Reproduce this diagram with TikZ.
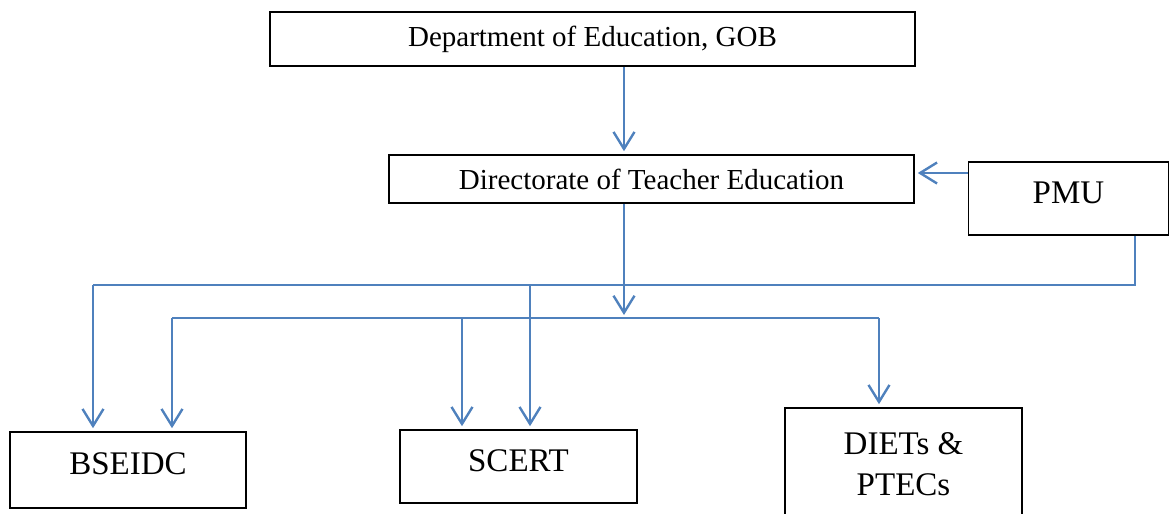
\documentclass[tikz,border=0pt]{standalone}
\usepackage{fontspec}
\setmainfont{Liberation Serif}
\usepackage{tikz}
\usetikzlibrary{arrows.meta, positioning}
\definecolor{myblue}{RGB}{79,129,189}
\tikzset{
  box/.style={rectangle, draw=black, line width=0.8pt, inner sep=0pt,
    font=\fontsize{14.5}{17}\selectfont},
  bigbox/.style={rectangle, draw=black, line width=0.8pt, inner sep=0pt,
    align=center, font=\fontsize{16.5}{20.5}\selectfont},
  raised/.style={text depth=6pt},
  link/.style={myblue, line width=1.2pt},
  arrow/.style={link, -{Straight Barb[length=8.5pt, width=10.5pt, line width=1.2pt]}, shorten >=1.5pt}
}

\begin{document}
\begin{tikzpicture}[x=0.5pt, y=-0.5pt]
  \useasboundingbox (0,0) rectangle (1169,514);

  % Boxes
  \node[box, minimum width=322.5pt, minimum height=27pt] (dept) at (592.5,39) {Department of Education, GOB};
  \node[box, minimum width=262.5pt, minimum height=24pt] (dte) at (651.5,179) {Directorate of Teacher Education};
  \node[bigbox, raised, minimum width=100pt, minimum height=36.5pt] (pmu) at (1068.5,198.5) {PMU};
  \node[bigbox, raised, minimum width=118pt, minimum height=38pt] (bseidc) at (128,470) {BSEIDC};
  \node[bigbox, raised, minimum width=118.5pt, minimum height=36.5pt] (scert) at (518.5,466.5) {SCERT};
  \node[bigbox, minimum width=118.5pt, minimum height=56pt] (diets) at (903.5,464) {DIETs \&\\PTECs};

  % Drop points and bus lines
  \coordinate (trunk) at (624,0);
  \coordinate (pmudrop) at (1135,0);
  \coordinate (busA) at (0,285);
  \coordinate (busB) at (0,318);
  \coordinate (bseL) at ([xshift=-17.5pt]bseidc.north);
  \coordinate (bseR) at ([xshift=22pt]bseidc.north);
  \coordinate (scL) at ([xshift=-28.25pt]scert.north);
  \coordinate (scR) at ([xshift=5.75pt]scert.north);
  \coordinate (dtop) at ([xshift=-12.25pt]diets.north);
  \coordinate (pmuarr) at (0,173);

  % Department -> Directorate
  \draw[arrow] (dept.south -| trunk) -- (dte.north -| trunk);

  % PMU -> Directorate
  \draw[arrow] (pmu.west |- pmuarr) -- (dte.east |- pmuarr);

  % Directorate down to the lower bus
  \draw[arrow] (dte.south -| trunk) -- (busB -| trunk);

  % Upper bus from PMU
  \draw[link] (pmu.south -| pmudrop) -- (busA -| pmudrop) -- (busA -| bseL);
  \draw[arrow] (busA -| bseL) -- (bseL);
  \draw[arrow] (busA -| scR) -- (scR);

  % Lower bus
  \draw[link] (busB -| bseR) -- (busB -| dtop);
  \draw[arrow] (busB -| bseR) -- (bseR);
  \draw[arrow] (busB -| scL) -- (scL);
  \draw[arrow] (busB -| dtop) -- (dtop);
\end{tikzpicture}
\end{document}
